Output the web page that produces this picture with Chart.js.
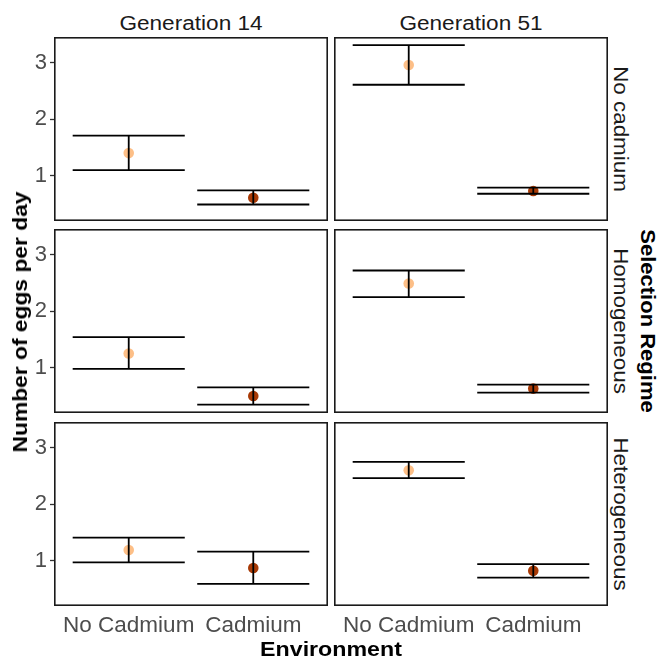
<!DOCTYPE html>
<html>
<head>
<meta charset="utf-8">
<script src="https://cdn.jsdelivr.net/npm/chart.js@4.4.1/dist/chart.umd.min.js"></script>
<style>
  html, body { margin: 0; padding: 0; background: #fff; }
  #wrap { position: relative; width: 660px; height: 657px; background: #fff; overflow: hidden; font-family: "Liberation Sans", Arial, sans-serif; }
  canvas { position: absolute; }
  .lbl { position: absolute; white-space: nowrap; line-height: 1; }
  .strip { font-size: 20px; color: #1A1A1A; }
  .title { font-size: 20px; font-weight: bold; color: #000; }
</style>
</head>
<body>
<div id="wrap"></div>
<script>
// ---------------- data ----------------
const categories = ['No Cadmium', 'Cadmium'];
const generations = ['Generation 14', 'Generation 51'];
const regimes = ['No cadmium', 'Homogeneous', 'Heterogeneous'];
const yTicks = [1, 2, 3];

// rows: regimes (No cadmium, Homogeneous, Heterogeneous); cols: [No Cadmium, Cadmium]
const gen14Mean  = [[1.40, 0.61], [1.25, 0.50], [1.19, 0.87]];
const gen14Lower = [[1.10, 0.49], [0.98, 0.345], [0.97, 0.59]];
const gen14Upper = [[1.71, 0.74], [1.54, 0.65], [1.41, 1.16]];

const gen51Mean  = [[2.96, 0.73], [2.49, 0.63], [2.60, 0.82]];
const gen51Lower = [[2.61, 0.68], [2.25, 0.56], [2.46, 0.70]];
const gen51Upper = [[3.31, 0.79], [2.72, 0.70], [2.75, 0.94]];

const pointColors = ['#FDBF87', '#A83A06'];
const yMin = 0.198, yMax = 3.455;

// ---------------- layout ----------------
const colLeft = [54, 334], colRight = [328, 608];
const rowTop = [37, 229, 422], panelH = 184;
const yAxisW = 54, xAxisH = 40;
const FONT = '"Liberation Sans", Arial, sans-serif';

const wrap = document.getElementById('wrap');

const errBarPlugin = {
  id: 'errbars',
  afterDatasetsDraw(chart) {
    const o = chart.options.plugins.errbars;
    const { ctx } = chart;
    const xs = chart.scales.x, ys = chart.scales.y;
    ctx.save();
    ctx.strokeStyle = '#000';
    ctx.lineWidth = 1.8;
    ctx.lineCap = 'butt';
    o.lower.forEach((lo, i) => {
      const hi = o.upper[i];
      const xc = xs.getPixelForValue(i + 1);
      const xl = xs.getPixelForValue(i + 1 - o.halfWidth);
      const xr = xs.getPixelForValue(i + 1 + o.halfWidth);
      const yl = ys.getPixelForValue(lo), yh = ys.getPixelForValue(hi);
      ctx.beginPath();
      ctx.moveTo(xl, yh); ctx.lineTo(xr, yh);
      ctx.moveTo(xl, yl); ctx.lineTo(xr, yl);
      ctx.moveTo(xc, yl); ctx.lineTo(xc, yh);
      ctx.stroke();
    });
    ctx.restore();
  },
  afterDraw(chart) {
    const { ctx, chartArea: a } = chart;
    ctx.save();
    ctx.strokeStyle = '#1a1a1a';
    ctx.lineWidth = 1.6;
    ctx.strokeRect(a.left + 0.8, a.top + 0.8, a.right - a.left - 1.6, a.bottom - a.top - 1.6);
    ctx.restore();
  }
};

function makePanel(r, c) {
  const mean = c === 0 ? gen14Mean[r] : gen51Mean[r];
  const lower = c === 0 ? gen14Lower[r] : gen51Lower[r];
  const upper = c === 0 ? gen14Upper[r] : gen51Upper[r];
  const showY = c === 0, showX = r === 2;
  const left = showY ? 0 : colLeft[c];
  const width = colRight[c] - left;
  const height = panelH + (showX ? xAxisH : 0);
  const cv = document.createElement('canvas');
  cv.width = width; cv.height = height;
  cv.style.left = left + 'px';
  cv.style.top = rowTop[r] + 'px';
  cv.style.width = width + 'px';
  cv.style.height = height + 'px';
  wrap.appendChild(cv);

  new Chart(cv.getContext('2d'), {
    type: 'scatter',
    data: {
      datasets: [{
        data: categories.map((cat, i) => ({ x: i + 1, y: mean[i] })),
        pointBackgroundColor: pointColors,
        pointBorderWidth: 0,
        pointRadius: 5.3,
        pointHoverRadius: 5.3
      }]
    },
    options: {
      responsive: false,
      maintainAspectRatio: false,
      devicePixelRatio: 1,
      animation: false,
      layout: { padding: 0, autoPadding: false },
      plugins: {
        legend: { display: false },
        tooltip: { enabled: false },
        errbars: { lower: lower, upper: upper, halfWidth: 0.45 }
      },
      scales: {
        x: {
          type: 'linear',
          min: 0.4, max: 2.6,
          display: showX,
          afterFit(s) { s.height = showX ? xAxisH : 0; s.paddingLeft = 0; s.paddingRight = 0; },
          afterBuildTicks(s) { s.ticks = categories.map((cat, i) => ({ value: i + 1 })); },
          grid: { display: false },
          border: { display: false },
          ticks: {
            padding: -2,
            color: '#4D4D4D',
            font: { family: FONT, size: 22.5 },
            maxRotation: 0,
            autoSkip: false,
            callback: (v) => categories[v - 1]
          }
        },
        y: {
          type: 'linear',
          min: yMin, max: yMax,
          display: showY,
          afterFit(s) { s.width = showY ? yAxisW : 0; s.paddingTop = 0; s.paddingBottom = 0; },
          afterBuildTicks(s) { s.ticks = yTicks.map(v => ({ value: v })); },
          grid: { display: true, drawOnChartArea: false, drawTicks: true, tickLength: 4, tickColor: '#333', tickWidth: 1.3 },
          border: { display: false },
          ticks: {
            padding: 3,
            color: '#4D4D4D',
            font: { family: FONT, size: 22 },
            callback: (v) => String(v)
          }
        }
      }
    },
    plugins: [errBarPlugin]
  });
}

for (let r = 0; r < 3; r++) for (let c = 0; c < 2; c++) makePanel(r, c);

// ---------------- text labels ----------------
function addLabel(text, cls, x, y, rot, sx) {
  const d = document.createElement('div');
  d.className = 'lbl ' + cls;
  d.textContent = text;
  d.style.left = x + 'px';
  d.style.top = y + 'px';
  d.style.transform = 'translate(-50%, -50%) rotate(' + rot + 'deg) scaleX(' + sx + ')';
  wrap.appendChild(d);
}
generations.forEach((g, c) => addLabel(g, 'strip', (colLeft[c] + colRight[c]) / 2, 23, 0, 1.13));
regimes.forEach((s, r) => addLabel(s, 'strip', 621, rowTop[r] + panelH / 2, 90, 1.12));
addLabel('Environment', 'title', (colLeft[0] + colRight[1]) / 2, 649, 0, 1.16);
addLabel('Number of eggs per day', 'title', 20, 322, -90, 1.14);
addLabel('Selection Regime', 'title', 648, 321, 90, 1.1);
</script>
</body>
</html>
